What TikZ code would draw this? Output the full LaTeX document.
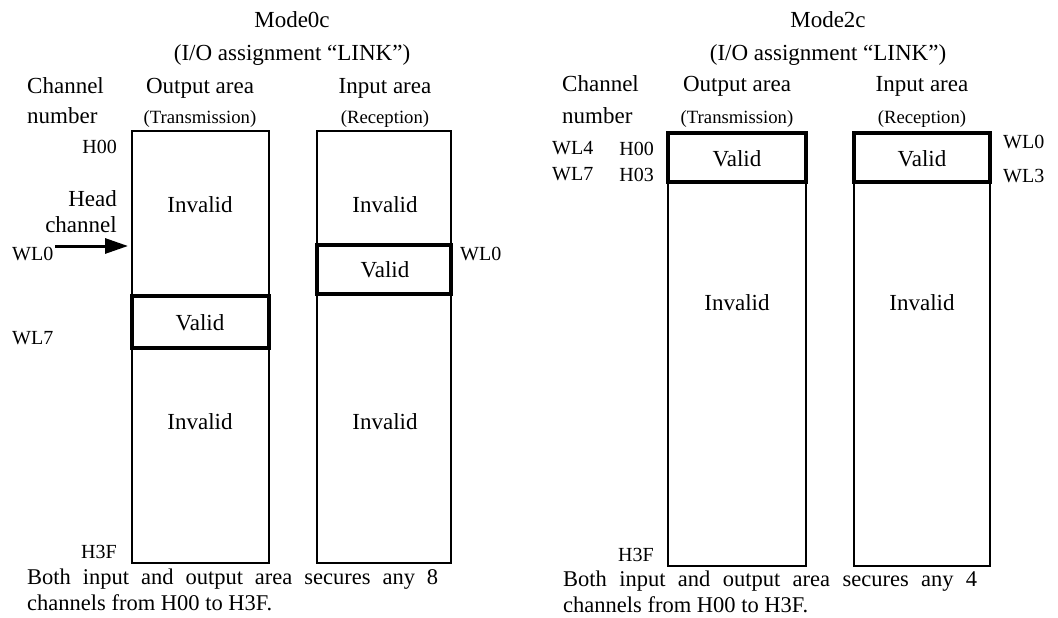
\documentclass[tikz,border=0pt]{standalone}
\usepackage{fontspec}
\setmainfont{Liberation Serif}
\usetikzlibrary{arrows.meta}

\begin{document}
\begin{tikzpicture}[x=1pt, y=-1pt, line join=miter,
    big/.style={inner sep=0pt, font=\fontsize{23}{27}\selectfont},
    lbl/.style={inner sep=0pt, font=\fontsize{20}{23}\selectfont},
    small/.style={inner sep=0pt, font=\fontsize{18.7}{21}\selectfont},
    area/.style={line width=1.5pt},
    valid/.style={line width=4pt},
    note/.style={inner sep=0pt, anchor=north west, align=justify,
        font=\fontsize{22.5}{26}\selectfont}]
    \useasboundingbox (0,0) rectangle (1058,618);

    % ---- Mode0c ----
    \node[big, anchor=base] (titleA) at (292,28) {Mode0c};
    \node[big, anchor=base] (linkA) at (292,60) {(I/O assignment “LINK”)};
    \node[big, anchor=base west] (chanA) at (27,93) {Channel};
    \node[big, anchor=base west] (numA) at (27,124) {number};
    \node[big, anchor=base] (outhA) at (200,93) {Output area};
    \node[small, anchor=base] (txA) at (200,124) {(Transmission)};
    \node[big, anchor=base] (inhA) at (385,93) {Input area};
    \node[small, anchor=base] (rxA) at (385,124) {(Reception)};

    \draw[area] (132,131) rectangle (269,563);
    \draw[area] (317,131) rectangle (451,563);
    \draw[valid] (132,296) rectangle (269,348);
    \draw[valid] (317,245) rectangle (451,294);

    \node[big, anchor=base] (invA1) at (200,212) {Invalid};
    \node[big, anchor=base] (valA1) at (200,330) {Valid};
    \node[big, anchor=base] (invA2) at (200,429) {Invalid};
    \node[big, anchor=base] (invA3) at (385,212) {Invalid};
    \node[big, anchor=base] (valA2) at (385,277) {Valid};
    \node[big, anchor=base] (invA4) at (385,429) {Invalid};

    \node[lbl, anchor=base east] (hzA) at (117,153) {H00};
    \node[big, anchor=base east] (headA) at (117,206) {Head};
    \node[big, anchor=base east] (hchA) at (117,232) {channel};
    \node[lbl, anchor=base west] (wlzA) at (12,260) {WL0};
    \node[lbl, anchor=base west] (wlsA) at (12,344) {WL7};
    \node[lbl, anchor=base east] (hfA) at (117,558) {H3F};
    \node[lbl, anchor=base west] (wliA) at (460,260) {WL0};

    \coordinate (tipA) at (128,246);
    \draw[line width=3pt, -{Triangle[length=23pt, width=15pt]}]
        ([xshift=2pt]wlzA.east |- tipA) -- (tipA);

    \node[note, text width=411pt] (noteA) at (27,569)
        {Both input and output area secures any 8\linebreak channels from H00 to H3F.};

    % ---- Mode2c ----
    \node[big, anchor=base] (titleB) at (828,28) {Mode2c};
    \node[big, anchor=base] (linkB) at (828,60) {(I/O assignment “LINK”)};
    \node[big, anchor=base west] (chanB) at (562,92) {Channel};
    \node[big, anchor=base west] (numB) at (562,123) {number};
    \node[big, anchor=base] (outhB) at (737,92) {Output area};
    \node[small, anchor=base] (txB) at (737,124) {(Transmission)};
    \node[big, anchor=base] (inhB) at (922,92) {Input area};
    \node[small, anchor=base] (rxB) at (922,124) {(Reception)};

    \draw[area] (668,133) rectangle (806,566);
    \draw[area] (854,133) rectangle (990,566);
    \draw[valid] (668,133) rectangle (806,182);
    \draw[valid] (854,133) rectangle (990,182);

    \node[big, anchor=base] (valB1) at (737,166) {Valid};
    \node[big, anchor=base] (invB1) at (737,310) {Invalid};
    \node[big, anchor=base] (valB2) at (922,166) {Valid};
    \node[big, anchor=base] (invB2) at (922,310) {Invalid};

    \node[lbl, anchor=base west] (wlfB) at (552,154) {WL4};
    \node[lbl, anchor=base west] (wlsB) at (552,180) {WL7};
    \node[lbl, anchor=base east] (hzB) at (654,155) {H00};
    \node[lbl, anchor=base east] (htB) at (654,181) {H03};
    \node[lbl, anchor=base east] (hfB) at (654,561) {H3F};
    \node[lbl, anchor=base west] (wlzB) at (1003,148) {WL0};
    \node[lbl, anchor=base west] (wltB) at (1003,182) {WL3};

    \node[note, text width=414pt] (noteB) at (563,571)
        {Both input and output area secures any 4\linebreak channels from H00 to H3F.};
\end{tikzpicture}
\end{document}
